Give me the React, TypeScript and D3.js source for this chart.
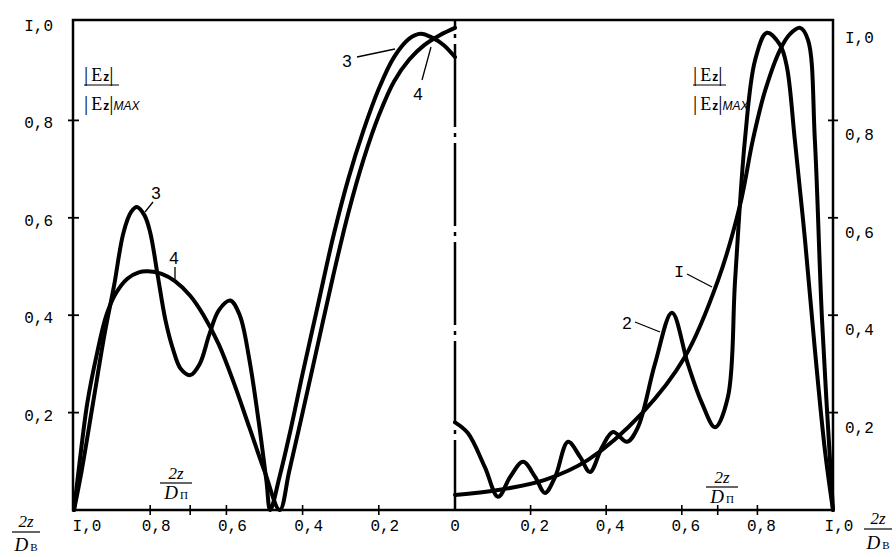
import React, { useEffect, useRef } from "react";
import * as d3 from "d3";

// |Ez| / |Ez|max against 2z/D — left half (curves 3, 4), right half (curves I, 2)
// points are [2z/D, value]
const curve3: [number, number][] = [
  [1.0, 0], [0.98, 0.08], [0.95, 0.22], [0.92, 0.36], [0.895, 0.46], [0.87, 0.57],
  [0.85, 0.612], [0.835, 0.622], [0.815, 0.605], [0.8, 0.57], [0.78, 0.48],
  [0.76, 0.39], [0.74, 0.33], [0.72, 0.29], [0.695, 0.277], [0.67, 0.3],
  [0.645, 0.36], [0.62, 0.41], [0.59, 0.43], [0.565, 0.4], [0.54, 0.31],
  [0.515, 0.18], [0.495, 0.06], [0.485, 0.0], [0.46, 0.07], [0.43, 0.17],
  [0.4, 0.28], [0.36, 0.42], [0.32, 0.56], [0.28, 0.68], [0.24, 0.78],
  [0.2, 0.865], [0.16, 0.93], [0.12, 0.968], [0.09, 0.978], [0.06, 0.97],
  [0.03, 0.955], [0.0, 0.93],
];

const curve4: [number, number][] = [
  [1.0, 0], [0.985, 0.1], [0.965, 0.22], [0.94, 0.32], [0.915, 0.4], [0.89, 0.445],
  [0.86, 0.475], [0.83, 0.488], [0.806, 0.49], [0.77, 0.485], [0.735, 0.47],
  [0.695, 0.44], [0.66, 0.4], [0.62, 0.34], [0.58, 0.26], [0.54, 0.17],
  [0.5, 0.08], [0.46, 0.0], [0.435, 0.08], [0.4, 0.2], [0.36, 0.34],
  [0.32, 0.48], [0.28, 0.61], [0.24, 0.72], [0.2, 0.81], [0.16, 0.88],
  [0.12, 0.925], [0.08, 0.955], [0.04, 0.975], [0.0, 0.99],
];

const curve1: [number, number][] = [
  [0.0, 0.031], [0.114, 0.041], [0.238, 0.062], [0.352, 0.103], [0.495, 0.199],
  [0.608, 0.314], [0.696, 0.472], [0.754, 0.626], [0.788, 0.76], [0.82, 0.86],
  [0.86, 0.945], [0.886, 0.977], [0.913, 0.99], [0.934, 0.965], [0.952, 0.76],
  [0.971, 0.39], [1.0, 0],
];

const curve2: [number, number][] = [
  [0.0, 0.18], [0.034, 0.158], [0.079, 0.088], [0.114, 0.027], [0.146, 0.068],
  [0.18, 0.099], [0.212, 0.068], [0.238, 0.035], [0.265, 0.068], [0.299, 0.14],
  [0.331, 0.109], [0.357, 0.078], [0.389, 0.129], [0.418, 0.16], [0.455, 0.14],
  [0.484, 0.17], [0.529, 0.3], [0.574, 0.405], [0.616, 0.3], [0.653, 0.22],
  [0.688, 0.17], [0.722, 0.232], [0.741, 0.472], [0.767, 0.76], [0.794, 0.924],
  [0.825, 0.98], [0.86, 0.955], [0.878, 0.91], [0.899, 0.76], [0.926, 0.554],
  [0.952, 0.33], [0.979, 0.12], [1.0, 0],
];

const yTicks = [0.2, 0.4, 0.6, 0.8, 1.0];
const xTicks = [0.2, 0.4, 0.6, 0.8, 1.0];
const dpMark = 0.695; // 2z/DП boundary

const fmt = (v: number) => (v === 1 ? "I,0" : v === 0 ? "0" : v.toFixed(1).replace(".", ","));

const MONO = "'Liberation Mono', 'DejaVu Sans Mono', monospace";
const SERIF = "'Liberation Serif', 'DejaVu Serif', serif";
const SANS = "'Liberation Sans', Arial, sans-serif";

export default function App() {
  const ref = useRef<SVGSVGElement>(null);

  useEffect(() => {
    const svg = d3.select(ref.current);
    svg.selectAll("*").remove();

    const xL = d3.scaleLinear().domain([1, 0]).range([74, 455]);
    const xR = d3.scaleLinear().domain([0, 1]).range([455, 833]);
    const y = d3.scaleLinear().domain([0, 1]).range([510, 23]);

    // frame
    svg.append("path")
      .attr("d", `M73,510 V20 H833 V510 Z`)
      .attr("fill", "none").attr("stroke", "#000").attr("stroke-width", 2.5);

    // centre dash-dot line
    svg.append("line")
      .attr("x1", 455).attr("x2", 455).attr("y1", 20).attr("y2", 510)
      .attr("stroke", "#000").attr("stroke-width", 2.5)
      .attr("stroke-dasharray", "83 6 4 6").attr("stroke-dashoffset", 75);

    // y ticks + labels
    yTicks.forEach((v) => {
      if (v < 1) {
        svg.append("line").attr("x1", 68).attr("x2", 79).attr("y1", y(v)).attr("y2", y(v))
          .attr("stroke", "#000").attr("stroke-width", 1.8);
        svg.append("line").attr("x1", 828).attr("x2", 838).attr("y1", y(v)).attr("y2", y(v))
          .attr("stroke", "#000").attr("stroke-width", 1.8);
      }
      svg.append("text").attr("x", 53).attr("y", y(v) + 8)
        .attr("text-anchor", "end").attr("font-family", MONO).attr("font-size", 16)
        .text(fmt(v));
      svg.append("text").attr("x", 845).attr("y", y(v) + 20)
        .attr("font-family", MONO).attr("font-size", 16)
        .text(fmt(v));
    });

    // x ticks + labels (both halves)
    const tickAt = (px: number) =>
      svg.append("line").attr("x1", px).attr("x2", px).attr("y1", 505).attr("y2", 515)
        .attr("stroke", "#000").attr("stroke-width", 1.6);
    [...xTicks.filter((u) => u < 1), dpMark].forEach((u) => { tickAt(xL(u)); tickAt(xR(u)); });

    [0, ...xTicks].forEach((u) => {
      svg.append("text").attr("x", xL(u) + (u === 0 ? 0 : u === 1 ? 13 : 6)).attr("y", 531)
        .attr("text-anchor", "middle").attr("font-family", MONO).attr("font-size", 16)
        .text(fmt(u));
      if (u > 0) {
        svg.append("text").attr("x", xR(u) + (u === 1 ? 6 : 4)).attr("y", 531)
          .attr("text-anchor", "middle").attr("font-family", MONO).attr("font-size", 16)
          .text(fmt(u));
      }
    });

    // curves
    const lineL = d3.line<[number, number]>()
      .x((d) => xL(d[0])).y((d) => y(d[1]))
      .curve(d3.curveCatmullRom.alpha(0.5));
    const lineR = d3.line<[number, number]>()
      .x((d) => xR(d[0])).y((d) => y(d[1]))
      .curve(d3.curveCatmullRom.alpha(0.5));

    const drawCurve = (d: string | null) =>
      svg.append("path").attr("d", d).attr("fill", "none").attr("stroke", "#000")
        .attr("stroke-width", 4).attr("stroke-linejoin", "round").attr("stroke-linecap", "round");
    drawCurve(lineL(curve3));
    drawCurve(lineL(curve4));
    drawCurve(lineR(curve1));
    drawCurve(lineR(curve2));

    // curve labels with leaders
    const label = (t: string, tx: number, ty: number, x1: number, y1: number, x2: number, y2: number, font = SANS) => {
      svg.append("text").attr("x", tx).attr("y", ty).attr("text-anchor", "middle")
        .attr("font-family", font).attr("font-size", 17).text(t);
      svg.append("line").attr("x1", x1).attr("y1", y1).attr("x2", x2).attr("y2", y2)
        .attr("stroke", "#000").attr("stroke-width", 1.3);
    };
    label("3", 347, 67, 357, 57, 395, 49);
    label("4", 418, 100, 422, 80, 431, 47);
    label("3", 156, 199, 153, 202, 145, 212);
    label("4", 174, 264, 175, 267, 175, 279);
    label("I", 679, 277, 687, 274, 712, 287, MONO);
    label("2", 627, 329, 635, 322, 660, 332);

    // fraction helper
    const frac = (cx: number, yNum: number, num: (g: any) => void, den: (g: any) => void, x1: number, x2: number, yBar: number, yDen: number, anchor = "middle") => {
      const gN = svg.append("text").attr("x", cx).attr("y", yNum).attr("text-anchor", anchor);
      num(gN);
      svg.append("line").attr("x1", x1).attr("x2", x2).attr("y1", yBar).attr("y2", yBar)
        .attr("stroke", "#000").attr("stroke-width", 1.2);
      const gD = svg.append("text").attr("x", anchor === "middle" ? cx : x1).attr("y", yDen).attr("text-anchor", anchor);
      den(gD);
    };

    const twoZ = (t: any) => t.attr("font-family", SERIF).attr("font-style", "italic").attr("font-size", 17).text("2z");
    const dSub = (sub: string) => (t: any) => {
      t.attr("font-family", SERIF).attr("font-size", 19);
      t.append("tspan").attr("font-style", "italic").text("D");
      t.append("tspan").attr("font-size", 11).attr("dx", 2).text(sub);
    };

    frac(26, 527, twoZ, dSub("В"), 12, 40, 532, 551);
    frac(878, 524, twoZ, dSub("В"), 864, 892, 529, 549);
    frac(176, 479, twoZ, dSub("П"), 160, 192, 483, 499);
    frac(722, 483, twoZ, dSub("П"), 706, 738, 487, 503);

    // |Ez| / |Ez|max labels
    const ez = (withMax: boolean) => (t: any) => {
      t.attr("font-family", SERIF).attr("font-size", 21);
      t.append("tspan").text("|");
      t.append("tspan").attr("font-size", 18).attr("dx", 3).text("E");
      t.append("tspan").attr("font-size", 12).attr("font-family", SANS).attr("font-weight", "bold").attr("dx", 1).text("z");
      t.append("tspan").text("|");
      if (withMax) t.append("tspan").attr("font-size", 12).attr("font-style", "italic").attr("font-family", SANS).attr("dx", 0).text("MAX");
    };
    frac(84, 81, ez(false), ez(true), 84, 119, 85, 110, "start");
    frac(693, 81, ez(false), ez(true), 693, 726, 85, 110, "start");
  }, []);

  return (
    <svg
      ref={ref}
      width={896}
      height={557}
      style={{ position: "absolute", left: 0, top: 0, background: "#fff" }}
    />
  );
}
